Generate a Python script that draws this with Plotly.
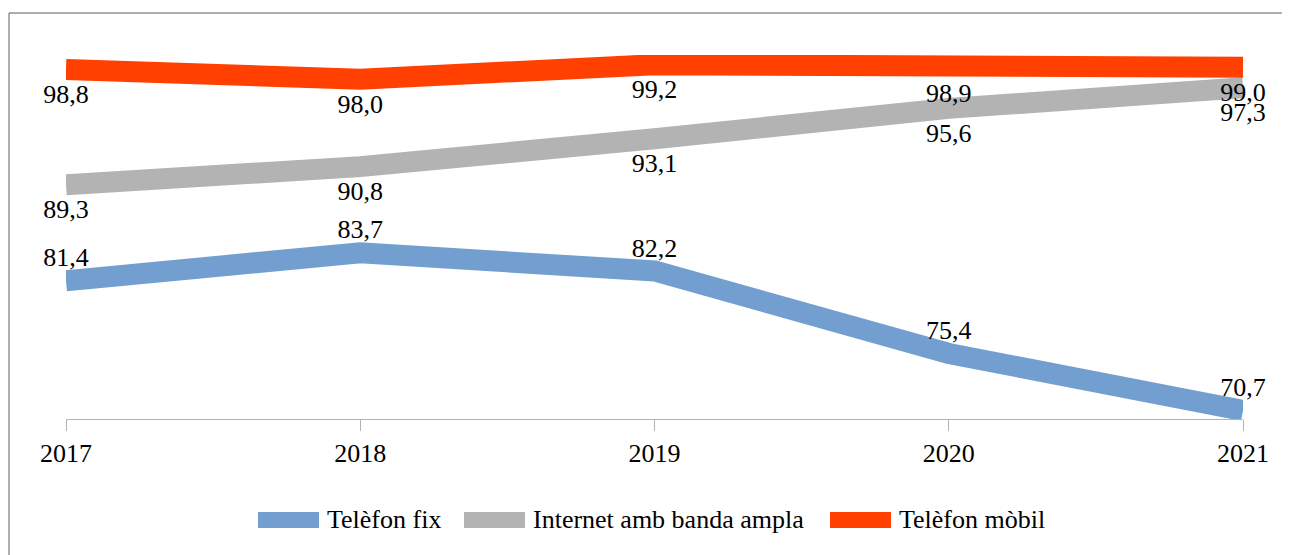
import plotly.graph_objects as go

# Source values (percent of households)
years = ["2017", "2018", "2019", "2020", "2021"]
telefon_fix = [81.4, 83.7, 82.2, 75.4, 70.7]
internet_banda_ampla = [89.3, 90.8, 93.1, 95.6, 97.3]
telefon_mobil = [98.8, 98.0, 99.2, 98.9, 99.0]

series_names = ["Telèfon fix", "Internet amb banda ampla", "Telèfon mòbil"]
series_values = [telefon_fix, internet_banda_ampla, telefon_mobil]

COLORS = ["#729FCF", "#B3B3B3", "#FF4000"]
LABEL_POS = ["top center", "bottom center", "bottom center"]
# invisible marker size only pushes the value labels away from the line
LABEL_GAP = [11, 21, 21]
FONT = "Liberation Serif"

# the page body has an 8px margin, so the figure is a bit smaller than the window
PAGE_OFF = 8
W, H = 1290 - PAGE_OFF, 555 - PAGE_OFF
M_L, M_R, M_T, M_B = 58, 47, 47, 136
PLOT_W = W - M_L - M_R
PLOT_H = H - M_T - M_B


def paper_x(page_x):
    return (page_x - PAGE_OFF - M_L) / PLOT_W


def paper_y(page_y):
    return (H - M_B - (page_y - PAGE_OFF)) / PLOT_H


fig = go.Figure()
for name, vals, color, pos, gap in zip(series_names, series_values, COLORS, LABEL_POS, LABEL_GAP):
    fig.add_trace(
        go.Scatter(
            x=years,
            y=vals,
            name=name,
            mode="lines+markers+text",
            line=dict(color=color, width=21),
            marker=dict(size=gap, opacity=0, color=color),
            texttemplate="%{y:.1f}",
            textposition=pos,
            textfont=dict(family=FONT, size=26, color="#000000"),
            cliponaxis=False,
            showlegend=False,
            hoverinfo="x+y+name",
        )
    )

# outer frame around the chart (runs past the bottom of the view)
fig.add_shape(
    type="rect",
    xref="paper",
    yref="paper",
    x0=paper_x(9),
    x1=paper_x(1287),
    y0=-1.0,
    y1=paper_y(13),
    line=dict(color="#5F5F5F", width=1),
    fillcolor="rgba(0,0,0,0)",
    layer="below",
)

# legend: thick colour swatch followed by the series name
legend_swatch_x = [258, 464, 830]
for name, color, sx in zip(series_names, COLORS, legend_swatch_x):
    fig.add_shape(
        type="rect",
        xref="paper",
        yref="paper",
        x0=paper_x(sx),
        x1=paper_x(sx + 61),
        y0=paper_y(528),
        y1=paper_y(512),
        line=dict(width=0),
        fillcolor=color,
    )
    fig.add_annotation(
        x=paper_x(sx + 67),
        y=paper_y(520),
        xref="paper",
        yref="paper",
        xanchor="left",
        yanchor="middle",
        text=name,
        showarrow=False,
        font=dict(family=FONT, size=26, color="#000000"),
    )

fig.update_layout(
    width=W,
    height=H,
    margin=dict(l=M_L, r=M_R, t=M_T, b=M_B),
    paper_bgcolor="white",
    plot_bgcolor="white",
    separators=", ",
    font=dict(family=FONT, size=26, color="#000000"),
    showlegend=False,
    xaxis=dict(
        type="category",
        range=[0, 4],
        showgrid=False,
        showline=True,
        linecolor="#B3B3B3",
        linewidth=1,
        ticks="outside",
        ticklen=11,
        tickcolor="#B3B3B3",
        tickfont=dict(family=FONT, size=26),
        zeroline=False,
    ),
    yaxis=dict(
        range=[70, 100],
        visible=False,
        showgrid=False,
        zeroline=False,
    ),
)

fig.write_html("out.html")
